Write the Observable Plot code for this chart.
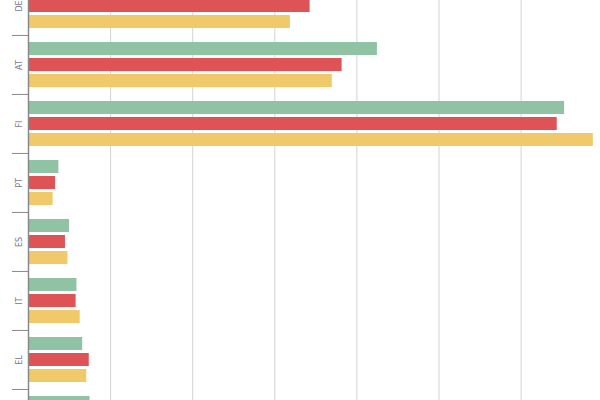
<!DOCTYPE html>
<html><head><meta charset="utf-8">
<script src="https://cdn.jsdelivr.net/npm/d3@7"></script>
<script src="https://cdn.jsdelivr.net/npm/@observablehq/plot@0.6"></script>
<style>
html,body{margin:0;padding:0;background:#fff;overflow:hidden;}
#chart svg{display:block;margin-top:-25px;}
</style></head><body><div id="chart"></div>
<script>
const countries = ["DE","AT","FI","PT","ES","IT","EL","IE"];
const labelledCountries = ["DE","AT","FI","PT","ES","IT","EL"];
const seriesNames = ["Series A","Series B","Series C"];
const seriesA = [3.60,4.25,6.53,0.37,0.50,0.59,0.66,0.75];
const seriesB = [3.43,3.82,6.44,0.33,0.45,0.58,0.74,0.70];
const seriesC = [3.19,3.70,6.88,0.30,0.48,0.63,0.71,0.72];
const gridTicks = [1,2,3,4,5,6];
const colors = ["#8fc3a4","#de5356","#f0ca6a"];

const rows = [];
[seriesA, seriesB, seriesC].forEach((vals, s) => vals.forEach((v, i) => rows.push({country: countries[i], series: seriesNames[s], value: v})));

const H = 473;
const bandStep = H / countries.length;
const plot = Plot.plot({
  width: 600, height: H,
  marginTop: 0, marginBottom: 0, marginLeft: 28, marginRight: 0,
  style: {background: "#fff", fontFamily: "DejaVu Sans, sans-serif"},
  x: {domain: [0, 572 / 82.1], axis: null},
  y: {domain: seriesNames, paddingInner: 0.212, paddingOuter: 0.4, axis: null},
  fy: {domain: countries, padding: 0, axis: null, label: null},
  color: {domain: seriesNames, range: colors},
  marks: [
    Plot.gridX(gridTicks, {stroke: "#d4d4d4", strokeOpacity: 1}),
    Plot.barX(rows, {fy: "country", y: "series", x: "value", fill: "series"}),
    Plot.ruleX([0], {stroke: "#888", strokeWidth: 1.5}),
    Plot.axisFy({anchor: "left", label: null, ticks: labelledCountries, tickSize: 0, tickRotate: -90, fontSize: 8, fill: "#7a7a92", tickPadding: 7}),
    Plot.axisFy({anchor: "left", label: null, tickSize: 16, tickFormat: () => "", stroke: "#888", dy: -bandStep / 2})
  ]
});
document.getElementById("chart").append(plot);
</script></body></html>
